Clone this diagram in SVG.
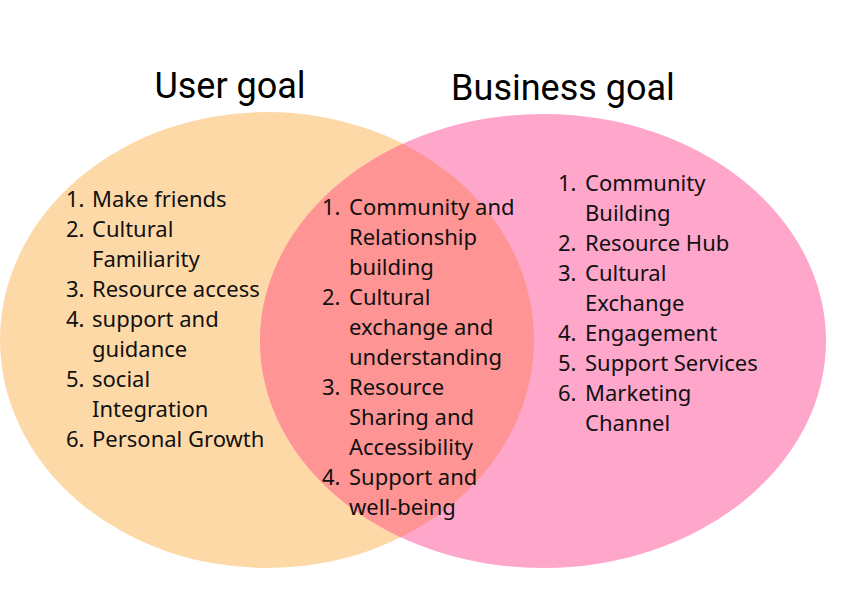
<svg xmlns="http://www.w3.org/2000/svg" width="842" height="595" viewBox="0 0 842 595">
<style>
.title{font-family:Roboto,"Liberation Sans",sans-serif;font-size:36px;fill:#000;text-anchor:middle}
.item{font-family:"Noto Sans","Open Sans",sans-serif;font-size:22px;fill:#111}
</style>
<defs>
<clipPath id="clipLeft"><ellipse cx="267" cy="340" rx="267" ry="228"/></clipPath>
</defs>
<rect width="842" height="595" fill="#fff"/>
<g id="user-goal">
<ellipse cx="267" cy="340" rx="267" ry="228" fill="#FDD9A8"/>
<text class="title" x="230" y="98">User goal</text>
<text class="item" x="66" y="207">1.</text><text class="item" x="92" y="207">Make friends</text>
<text class="item" x="66" y="237">2.</text><text class="item" x="92" y="237">Cultural</text>
<text class="item" x="92" y="267">Familiarity</text>
<text class="item" x="66" y="297">3.</text><text class="item" x="92" y="297">Resource access</text>
<text class="item" x="66" y="327">4.</text><text class="item" x="92" y="327">support and</text>
<text class="item" x="92" y="357">guidance</text>
<text class="item" x="66" y="387">5.</text><text class="item" x="92" y="387">social</text>
<text class="item" x="92" y="417">Integration</text>
<text class="item" x="66" y="447">6.</text><text class="item" x="92" y="447">Personal Growth</text>
</g>
<g id="business-goal">
<ellipse cx="543" cy="341" rx="283" ry="227" fill="#FFA6CB"/>
<text class="title" x="563" y="100">Business goal</text>
<text class="item" x="558" y="191">1.</text><text class="item" x="585" y="191">Community</text>
<text class="item" x="585" y="221">Building</text>
<text class="item" x="558" y="251">2.</text><text class="item" x="585" y="251">Resource Hub</text>
<text class="item" x="558" y="281">3.</text><text class="item" x="585" y="281">Cultural</text>
<text class="item" x="585" y="311">Exchange</text>
<text class="item" x="558" y="341">4.</text><text class="item" x="585" y="341">Engagement</text>
<text class="item" x="558" y="371">5.</text><text class="item" x="585" y="371">Support Services</text>
<text class="item" x="558" y="401">6.</text><text class="item" x="585" y="401">Marketing</text>
<text class="item" x="585" y="431">Channel</text>
</g>
<g id="overlap">
<ellipse cx="543" cy="341" rx="283" ry="227" fill="#FF9494" clip-path="url(#clipLeft)"/>
<text class="item" x="322" y="215">1.</text><text class="item" x="349" y="215">Community and</text>
<text class="item" x="349" y="245">Relationship</text>
<text class="item" x="349" y="275">building</text>
<text class="item" x="322" y="305">2.</text><text class="item" x="349" y="305">Cultural</text>
<text class="item" x="349" y="335">exchange and</text>
<text class="item" x="349" y="365">understanding</text>
<text class="item" x="322" y="395">3.</text><text class="item" x="349" y="395">Resource</text>
<text class="item" x="349" y="425">Sharing and</text>
<text class="item" x="349" y="455">Accessibility</text>
<text class="item" x="322" y="485">4.</text><text class="item" x="349" y="485">Support and</text>
<text class="item" x="349" y="515">well-being</text>
</g>
</svg>
